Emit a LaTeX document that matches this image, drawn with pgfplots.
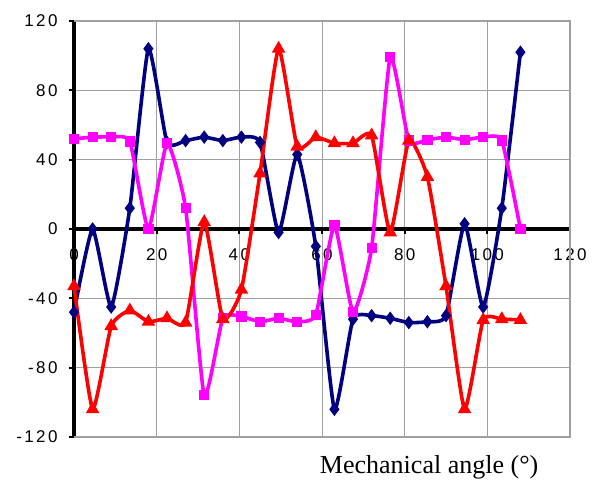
\documentclass[border=0pt]{standalone}
\usepackage{fontspec}
\setmainfont{Liberation Serif}
\newfontfamily\tickfont[LetterSpace=14]{Liberation Sans}
\usepackage{pgfplots}
\pgfplotsset{compat=1.18}
\definecolor{navyc}{RGB}{0,0,128}
\definecolor{magc}{RGB}{255,0,255}
\definecolor{redc}{RGB}{255,0,0}
\definecolor{gridc}{RGB}{160,160,160}
\begin{document}
\begin{tikzpicture}
\useasboundingbox (0,0) rectangle (593bp,482bp);
\begin{axis}[
  at={(74bp,45bp)}, anchor=south west,
  scale only axis, width=496bp, height=416bp,
  xmin=0, xmax=120, ymin=-120, ymax=120,
  axis x line=middle, axis y line=left,
  hide obscured x ticks=false,
  axis line style={black, line width=3.5bp, -},
  clip=false,
  xtick={0,20,40,60,80,100,120},
  xticklabels={0,20,40,60,80,100,120},
  ytick={-120,-80,-40,0,40,80,120},
  yticklabels={-120,-80,-40,0,40,80,120},
  tick align=outside,
  major tick length=5bp,
  tick style={black, line width=1.8bp},
  grid=major,
  grid style={gridc, line width=1bp},
  ticklabel style={font=\fontsize{17bp}{20bp}\tickfont},
  xticklabel style={yshift=-11bp},
  yticklabel style={xshift=-8bp},
  xlabel={Mechanical angle (°)},
  xlabel style={at={(rel axis cs:0.716,0)}, anchor=base, yshift=-36bp, font=\fontsize{26bp}{30bp}\selectfont},
]
\draw[gridc, line width=1.5bp] (rel axis cs:0,0) -- (rel axis cs:1,0) -- (rel axis cs:1,1) -- (rel axis cs:0,1);
\addplot[navyc, line width=3.6bp, smooth, tension=0.3, mark=diamond*, mark size=3.8bp, mark options={solid}] coordinates {
(0,-48) (4.5,0) (9,-45) (13.5,12) (18,104) (22.5,50) (27,51) (31.5,53) (36,51) (40.5,53) (45,50) (49.5,-2) (54,43) (58.5,-10) (63,-104) (67.5,-52) (72,-50) (76.5,-51.5) (81,-54) (85.5,-53.5) (90,-50) (94.5,3) (99,-45) (103.5,12) (108,102)
};
\addplot[magc, line width=3.6bp, smooth, tension=0.3, mark=square*, mark size=3.3bp, mark options={solid}] coordinates {
(0,52) (4.5,53) (9,53) (13.5,50.5) (18,0) (22.5,49.5) (27,12) (31.5,-96) (36,-51.5) (40.5,-50.5) (45,-53.5) (49.5,-51.5) (54,-53.5) (58.5,-49.5) (63,2) (67.5,-48) (72,-11) (76.5,99) (81,51) (85.5,51.5) (90,53) (94.5,51.5) (99,53) (103.5,51) (108,0)
};
\addplot[redc, line width=3.6bp, smooth, tension=0.3, mark=triangle*, mark size=4.3bp, mark options={solid}] coordinates {
(0,-33) (4.5,-104) (9,-56) (13.5,-47) (18,-53.5) (22.5,-51.5) (27,-54) (31.5,4) (36,-52) (40.5,-35) (45,32) (49.5,104) (54,47.5) (58.5,53) (63,49.5) (67.5,49.5) (72,54) (76.5,-2) (81,51) (85.5,30) (90,-33) (94.5,-104) (99,-52.5) (103.5,-52) (108,-52.5)
};
\end{axis}
\end{tikzpicture}
\end{document}
